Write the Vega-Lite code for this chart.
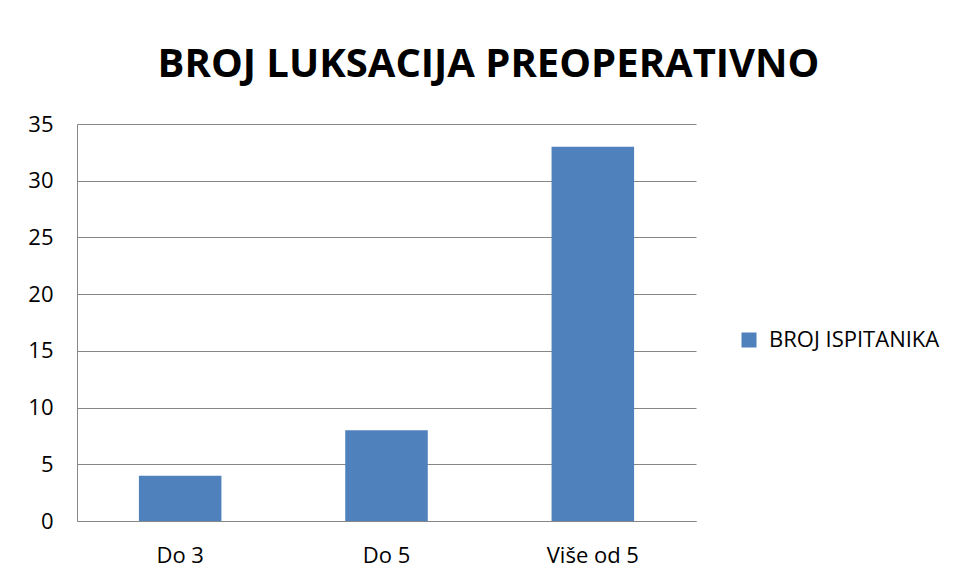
{
  "$schema": "https://vega.github.io/schema/vega-lite/v6.json",
  "width": 619,
  "height": 397,
  "autosize": {"type": "none"},
  "padding": {"left": 77, "top": 124, "right": 262, "bottom": 60},
  "background": "white",
  "data": {
    "values": [
      {"kategorija": "Do 3", "broj": 4, "serija": "BROJ ISPITANIKA"},
      {"kategorija": "Do 5", "broj": 8, "serija": "BROJ ISPITANIKA"},
      {"kategorija": "Više od 5", "broj": 33, "serija": "BROJ ISPITANIKA"}
    ]
  },
  "title": {
    "text": "BROJ LUKSACIJA PREOPERATIVNO",
    "font": "Open Sans",
    "fontSize": 40,
    "fontWeight": "bold",
    "color": "black",
    "anchor": "middle",
    "dx": 102,
    "offset": 28
  },
  "mark": {"type": "bar", "color": "#4F81BD"},
  "encoding": {
    "x": {
      "field": "kategorija",
      "type": "nominal",
      "sort": null,
      "scale": {"paddingInner": 0.6, "paddingOuter": 0.3},
      "axis": {
        "title": null,
        "labelAngle": 0,
        "ticks": false,
        "grid": false,
        "domainColor": "#868686",
        "domainWidth": 1,
        "labelFont": "Open Sans",
        "labelFontSize": 22,
        "labelColor": "black",
        "labelPadding": 24
      }
    },
    "y": {
      "field": "broj",
      "type": "quantitative",
      "scale": {"domain": [0, 35], "nice": false},
      "axis": {
        "title": null,
        "values": [0, 5, 10, 15, 20, 25, 30, 35],
        "ticks": false,
        "grid": true,
        "gridColor": "#868686",
        "gridOpacity": 1,
        "gridWidth": 1,
        "domainColor": "#868686",
        "domainWidth": 1,
        "labelFont": "Open Sans",
        "labelFontSize": 22,
        "labelColor": "black",
        "labelPadding": 24
      }
    },
    "color": {
      "field": "serija",
      "type": "nominal",
      "scale": {"range": ["#4F81BD"]},
      "legend": {
        "title": null,
        "orient": "none",
        "legendX": 661,
        "legendY": 205,
        "symbolType": "square",
        "symbolSize": 225,
        "symbolStrokeWidth": 0,
        "labelFont": "Open Sans",
        "labelFontSize": 22,
        "labelColor": "black",
        "labelOffset": 9,
        "labelLimit": 400
      }
    }
  },
  "config": {"view": {"stroke": null}}
}
